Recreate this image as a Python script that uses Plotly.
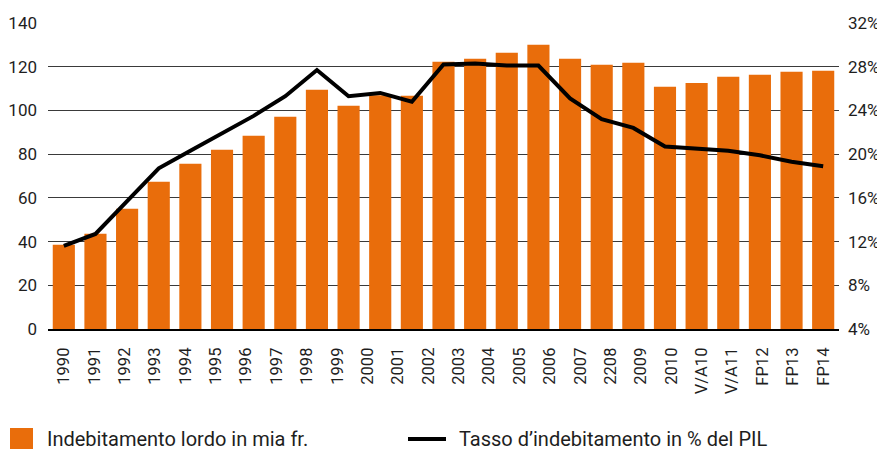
import numpy as np
import plotly.graph_objects as go

# Axis labels as printed (26 labels, 25 data points in the source chart)
labels = ["1990", "1991", "1992", "1993", "1994", "1995", "1996", "1997", "1998", "1999",
          "2000", "2001", "2002", "2003", "2004", "2005", "2006", "2007", "2208", "2009",
          "2010", "V/A10", "V/A11", "FP12", "FP13", "FP14"]

# Gross debt, bn CHF (bars)
debt = [38.6, 43.6, 55.0, 67.4, 75.6, 82.0, 88.4, 97.1, 109.5, 102.1,
        107.0, 106.7, 122.3, 123.6, 126.4, 130.1, 123.6, 120.9, 121.8, 110.8,
        112.6, 115.4, 116.3, 117.7, 118.1]

# Debt ratio, % of GDP (line)
ratio = [11.6, 12.7, 15.7, 18.7, 20.3, 21.9, 23.5, 25.3, 27.7, 25.3,
         25.6, 24.8, 28.2, 28.3, 28.1, 28.1, 25.1, 23.2, 22.4, 20.7,
         20.5, 20.3, 19.9, 19.3, 18.9]

ORANGE = "#E96D0B"
TEXT = "#1e1e1e"
FONT = "Roboto"

# page body adds an 8px margin, so the figure is a bit smaller than the window
OFF = 8
W, H = 885 - OFF, 450 - OFF
L, R, T, B = 48 - OFF, 46, 23 - OFF, 121
pos = np.arange(len(debt))
tick_pos = np.linspace(0, len(debt) - 1, len(labels))


def px_x(x):
    # window pixel -> paper fraction
    return (x - OFF - L) / (W - L - R)


def px_y(y):
    return (H - B - (y - OFF)) / (H - T - B)


fig = go.Figure()

fig.add_trace(go.Bar(
    x=pos, y=debt,
    marker=dict(color=ORANGE, line=dict(width=0)),
    name="Indebitamento lordo in mia fr.",
    showlegend=False,
))

fig.add_trace(go.Scatter(
    x=pos, y=ratio, yaxis="y2",
    mode="lines",
    line=dict(color="black", width=4),
    name="Tasso d’indebitamento in % del PIL",
    showlegend=False,
))

# hand-drawn legend below the chart
fig.add_shape(type="rect", xref="paper", yref="paper",
              x0=px_x(10), x1=px_x(33), y0=px_y(449), y1=px_y(428),
              fillcolor=ORANGE, line=dict(width=0))
fig.add_shape(type="line", xref="paper", yref="paper",
              x0=px_x(408), x1=px_x(446), y0=px_y(439), y1=px_y(439),
              line=dict(color="black", width=4))
fig.add_annotation(text="Indebitamento lordo in mia fr.", xref="paper", yref="paper",
                   x=px_x(45), y=px_y(439), xanchor="left", yanchor="middle",
                   showarrow=False, font=dict(family=FONT, size=20, color=TEXT))
fig.add_annotation(text="Tasso d’indebitamento in % del PIL", xref="paper", yref="paper",
                   x=px_x(457), y=px_y(439), xanchor="left", yanchor="middle",
                   showarrow=False, font=dict(family=FONT, size=20, color=TEXT))

fig.update_layout(
    width=W, height=H,
    margin=dict(l=L, r=R, t=T, b=B, autoexpand=False),
    paper_bgcolor="white", plot_bgcolor="white",
    bargap=0.3,
    font=dict(family=FONT, size=17, color=TEXT),
    xaxis=dict(
        range=[-0.5, len(debt) - 0.5],
        tickmode="array", tickvals=tick_pos, ticktext=labels,
        tickangle=-90, tickfont=dict(size=16.5),
        showgrid=False, zeroline=False,
        showline=True, linecolor="black", linewidth=2,
        ticks="", ticklabelstandoff=10, automargin=False,
    ),
    yaxis=dict(
        range=[0, 140], dtick=20,
        showgrid=True, gridcolor="#3a3a3a", gridwidth=1,
        zeroline=False, ticks="", ticklabelstandoff=10, automargin=False,
    ),
    yaxis2=dict(
        range=[4, 32], dtick=4, ticksuffix="%",
        overlaying="y", side="right",
        showgrid=False, zeroline=False, ticks="", ticklabelstandoff=8,
        automargin=False,
    ),
)

fig.write_html("out.html")
